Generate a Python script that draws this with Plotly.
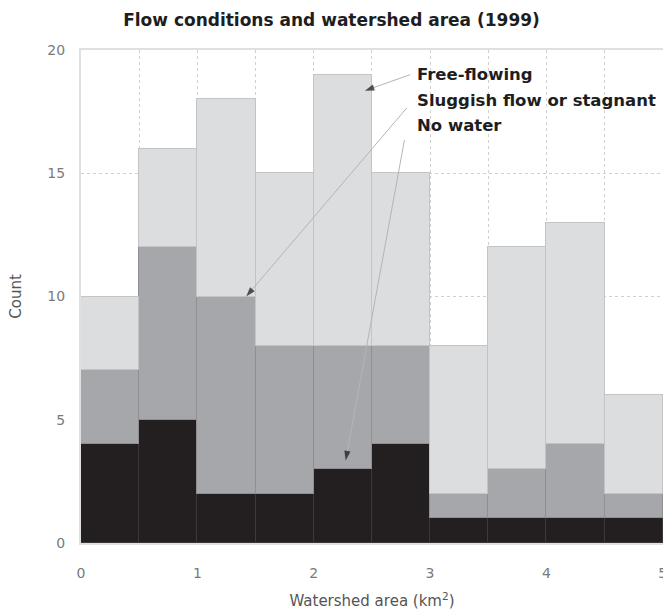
import plotly.graph_objects as go

bin_left = [0, 0.5, 1, 1.5, 2, 2.5, 3, 3.5, 4, 4.5]
no_water = [4, 5, 2, 2, 3, 4, 1, 1, 1, 1]
sluggish = [3, 7, 8, 6, 5, 4, 1, 2, 3, 1]
free_flowing = [3, 4, 8, 7, 11, 7, 6, 9, 9, 4]
bin_width = 0.5
x_ticks = [0, 1, 2, 3, 4, 5]
y_ticks = [0, 5, 10, 15, 20]

# callout labels: text position and pointer (start -> tip) in data units
label_text = ["Free-flowing", "Sluggish flow or stagnant", "No water"]
label_x = [2.87, 2.87, 2.87]
label_y = [19.0, 17.95, 16.95]
ptr_start_x = [2.83, 2.80, 2.78]
ptr_start_y = [19.0, 17.65, 16.35]
ptr_tip_x = [2.44, 1.42, 2.275]
ptr_tip_y = [18.35, 10.0, 3.35]

centers = [b + bin_width / 2 for b in bin_left]

W, H = 663, 611
ML, MR, MT, MB = 81, 0, 50, 68
XR, YR = [0, 5.002], [0, 20]

FONT = "DejaVu Sans"
GRID = dict(showgrid=True, gridcolor="#d0d0d0", griddash="dot", gridwidth=1)

fig = go.Figure()
series = [
    ("No water", no_water, "#231f20", "#3a3839"),
    ("Sluggish flow or stagnant", sluggish, "#a6a7aa", "#8e8f92"),
    ("Free-flowing", free_flowing, "#dcdddf", "#c3c4c6"),
]
for name, vals, fill, edge in series:
    fig.add_trace(go.Bar(x=centers, y=vals, width=bin_width, name=name,
                         marker=dict(color=fill, line=dict(color=edge, width=1.5))))

for i, text in enumerate(label_text):
    fig.add_annotation(x=label_x[i], y=label_y[i], xref="x", yref="y", text=text,
                       showarrow=False, xanchor="left", yanchor="middle",
                       font=dict(size=16.5, color="#1e1e1e", family=FONT, weight="bold"))
    fig.add_trace(go.Scatter(
        x=[ptr_start_x[i], ptr_tip_x[i]], y=[ptr_start_y[i], ptr_tip_y[i]],
        mode="lines+markers", hoverinfo="skip",
        line=dict(color="#b4b4b4", width=1),
        marker=dict(symbol="arrow", size=[0, 10], color="#111111",
                    angleref="previous", line=dict(width=0)),
    ))

fig.update_layout(
    width=W, height=H,
    margin=dict(l=ML, r=MR, t=MT, b=MB, autoexpand=False),
    barmode="stack", bargap=0,
    paper_bgcolor="white", plot_bgcolor="white",
    showlegend=False,
    font=dict(family=FONT, color="#444444"),
    title=dict(text="Flow conditions and watershed area (1999)", x=0.5, xanchor="center",
               y=1 - 20 / H, yanchor="middle", yref="container",
               font=dict(size=17, color="#1e1e1e", family=FONT, weight="bold")),
    xaxis=dict(range=XR, automargin=False, tickvals=x_ticks,
               ticktext=[str(v) for v in x_ticks], ticklabeloverflow="allow",
               tickfont=dict(size=14, color="#7a7a7a"), ticklabelstandoff=16,
               minor=dict(tick0=0, dtick=0.5, **GRID), **GRID,
               showline=True, linecolor="#e0e0e0", linewidth=2, mirror=True, zeroline=False,
               title=dict(text="Watershed area (km<sup>2</sup>)", standoff=16,
                          font=dict(size=15, color="#555555", family=FONT))),
    yaxis=dict(range=YR, automargin=False, tickvals=y_ticks,
               ticktext=[str(v) for v in y_ticks],
               tickfont=dict(size=14, color="#7a7a7a"), ticklabelstandoff=11, **GRID,
               showline=True, linecolor="#e0e0e0", linewidth=2, zeroline=False,
               title=dict(text="Count", standoff=22,
                          font=dict(size=15, color="#555555", family=FONT))),
)

fig.write_html("out.html", config={"displayModeBar": False},
               post_script="document.body.style.margin='0px';")
